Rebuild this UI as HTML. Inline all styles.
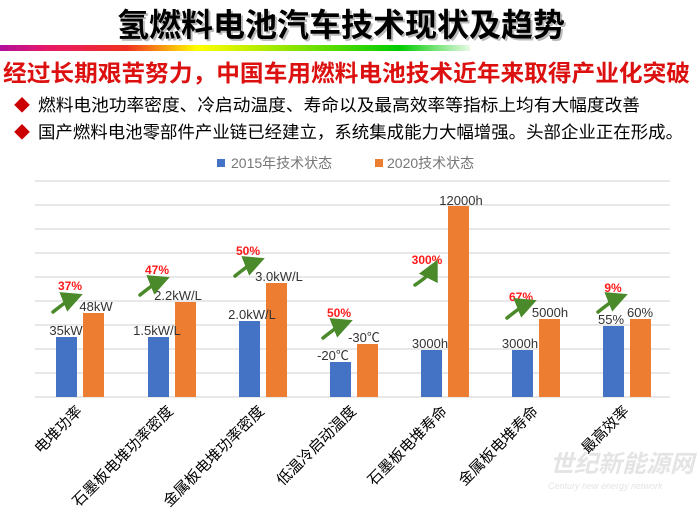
<!DOCTYPE html>
<html><head><meta charset="utf-8"><style>
body{margin:0;width:700px;height:510px;background:#fff;overflow:hidden;font-family:"Liberation Sans","Noto Sans CJK SC",sans-serif;}
</style></head><body>
<svg width="700" height="510" viewBox="0 0 700 510" xmlns="http://www.w3.org/2000/svg" style="position:absolute;left:0;top:0" font-family="Liberation Sans,Noto Sans CJK SC,sans-serif">
<defs>
<linearGradient id="rb" x1="0" x2="1" y1="0" y2="0">
<stop offset="0" stop-color="#b0109a"/><stop offset="0.1" stop-color="#e8186a"/><stop offset="0.27" stop-color="#f03020"/>
<stop offset="0.42" stop-color="#ffff00"/><stop offset="0.52" stop-color="#c8f000"/><stop offset="0.85" stop-color="#00cc00"/>
<stop offset="1" stop-color="#00cc00" stop-opacity="0.1"/></linearGradient>
<marker id="ah" markerWidth="6" markerHeight="6" refX="3" refY="3" orient="auto"><path d="M0,0 L6,3 L0,6 z" fill="#4a8a2a"/></marker>
</defs>
<text x="341" y="36" text-anchor="middle" font-size="32" font-weight="bold" fill="#bbb" dx="2" dy="2">氢燃料电池汽车技术现状及趋势</text>
<text x="341" y="36" text-anchor="middle" font-size="32" font-weight="bold" fill="#000">氢燃料电池汽车技术现状及趋势</text>
<rect x="0" y="45" width="470" height="6" fill="url(#rb)"/>
<text x="3" y="81" font-size="23" font-weight="bold" fill="#dd1010" textLength="687" lengthAdjust="spacingAndGlyphs">经过长期艰苦努力，中国车用燃料电池技术近年来取得产业化突破</text>
<text x="14" y="111" font-size="16" fill="#cc0000">◆</text>
<text x="38" y="111" font-size="17" fill="#000" textLength="602" lengthAdjust="spacingAndGlyphs">燃料电池功率密度、冷启动温度、寿命以及最高效率等指标上均有大幅度改善</text>
<text x="14" y="138" font-size="16" fill="#cc0000">◆</text>
<text x="38" y="138" font-size="17" fill="#000" textLength="645" lengthAdjust="spacingAndGlyphs">国产燃料电池零部件产业链已经建立，系统集成能力大幅增强。头部企业正在形成。</text>
<rect x="217" y="159" width="8" height="8" fill="#4472c4"/>
<text x="231" y="168" font-size="14" fill="#777">2015年技术状态</text>
<rect x="375" y="159" width="8" height="8" fill="#ed7d31"/>
<text x="387" y="168" font-size="14" fill="#777">2020技术状态</text>
<g stroke="#d9d9d9" stroke-width="1.2">
<line x1="35" x2="670" y1="181" y2="181"/><line x1="35" x2="670" y1="205" y2="205"/><line x1="35" x2="670" y1="229" y2="229"/>
<line x1="35" x2="670" y1="253" y2="253"/><line x1="35" x2="670" y1="277" y2="277"/><line x1="35" x2="670" y1="301" y2="301"/>
<line x1="35" x2="670" y1="325" y2="325"/><line x1="35" x2="670" y1="349" y2="349"/><line x1="35" x2="670" y1="373" y2="373"/>
<line x1="35" x2="670" y1="397" y2="397"/></g>
<g fill="#4472c4">
<rect x="56" y="337" width="21" height="60"/><rect x="148" y="337" width="21" height="60"/><rect x="239" y="321" width="21" height="76"/>
<rect x="330" y="362" width="21" height="35"/><rect x="421" y="350" width="21" height="47"/><rect x="512" y="350" width="21" height="47"/>
<rect x="603" y="326" width="21" height="71"/></g>
<g fill="#ed7d31">
<rect x="83" y="313" width="21" height="84"/><rect x="175" y="302" width="21" height="95"/><rect x="266" y="283" width="21" height="114"/>
<rect x="357" y="344" width="21" height="53"/><rect x="448" y="206" width="21" height="191"/><rect x="539" y="319" width="21" height="78"/>
<rect x="630" y="319" width="21" height="78"/></g>
<g font-size="13" fill="#333" text-anchor="middle">
<text x="66" y="335">35kW</text><text x="96" y="311">48kW</text>
<text x="157" y="335">1.5kW/L</text><text x="178" y="300">2.2kW/L</text>
<text x="252" y="319">2.0kW/L</text><text x="279" y="281">3.0kW/L</text>
<text x="333" y="360">-20℃</text><text x="364" y="342">-30℃</text>
<text x="430" y="348">3000h</text><text x="461" y="205">12000h</text>
<text x="520" y="348">3000h</text><text x="550" y="317">5000h</text>
<text x="611" y="324">55%</text><text x="640" y="317">60%</text>
</g>
<g font-size="12" font-weight="bold" fill="#ff1a1a" text-anchor="middle">
<text x="70" y="290">37%</text><text x="157" y="274">47%</text><text x="248" y="255">50%</text>
<text x="339" y="317">50%</text><text x="427" y="264">300%</text><text x="521" y="301">67%</text><text x="613" y="292">9%</text>
</g>
<g stroke="#4a8a2a" stroke-width="3.5" fill="none" marker-end="url(#ah)" stroke-linecap="round">
<path d="M53,312 Q68,300 73,298"/><path d="M140,295 Q155,283 160,281"/><path d="M235,276 Q250,264 255,262"/>
<path d="M323,338 Q338,326 343,324"/><path d="M415,285 Q430,275 433,269"/><path d="M507,318 Q522,306 527,304"/>
<path d="M598,312 Q613,300 618,298"/>
</g>
<g font-size="15" fill="#000" text-anchor="end">
<text transform="translate(83,412) rotate(-45)">电堆功率</text>
<text transform="translate(174,412) rotate(-45)">石墨板电堆功率密度</text>
<text transform="translate(265,412) rotate(-45)">金属板电堆功率密度</text>
<text transform="translate(357,412) rotate(-45)">低温冷启动温度</text>
<text transform="translate(448,412) rotate(-45)">石墨板电堆寿命</text>
<text transform="translate(539,412) rotate(-45)">金属板电堆寿命</text>
<text transform="translate(630,412) rotate(-45)">最高效率</text>
</g>
<text x="550" y="472" font-size="24" font-weight="bold" font-style="italic" fill="#e4e4e4">世纪新能源网</text>
<text x="548" y="489" font-size="9" font-style="italic" fill="#e4e4e4">Century new energy network</text>
</svg>
</body></html>
